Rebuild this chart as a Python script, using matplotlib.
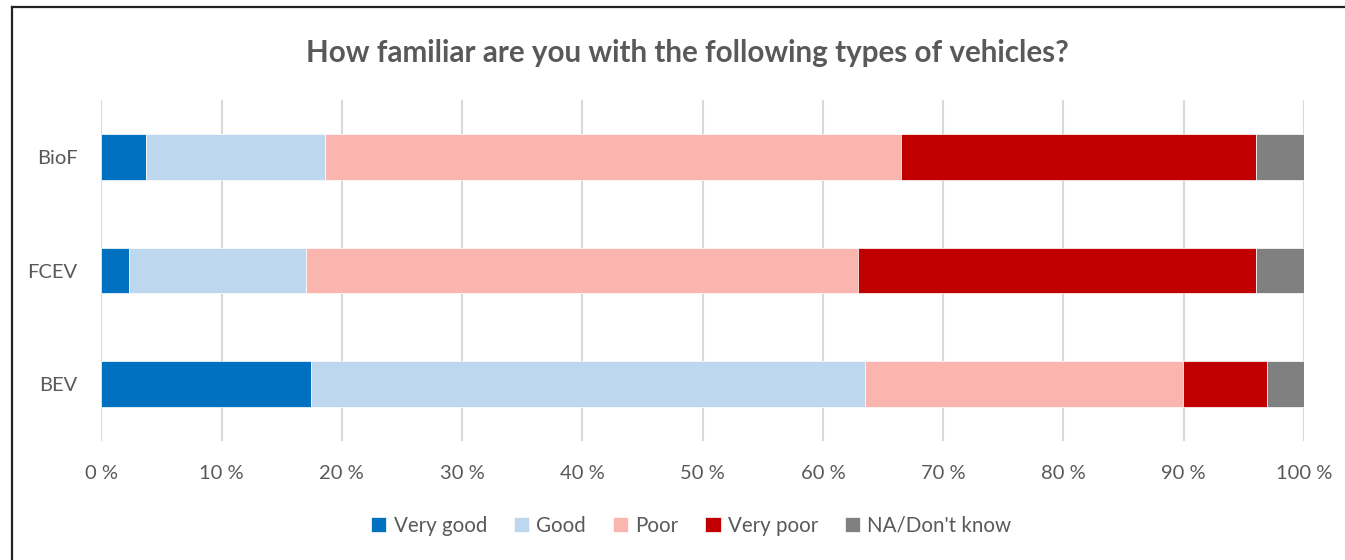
""" Stacked bar chart of vehicle type familiarity. """

import matplotlib.pyplot as plt
import numpy as np
from matplotlib.lines import Line2D

plt.rcParams['font.family'] = ['Lato', 'DejaVu Sans']

# data (percent of respondents)
vehicles = ['BEV', 'FCEV', 'BioF']
answers = ['Very good', 'Good', 'Poor', 'Very poor', "NA/Don't know"]
very_good = [17.4, 2.3, 3.7]
good = [46.1, 14.7, 14.9]
poor = [26.4, 45.9, 47.9]
very_poor = [7.0, 33.1, 29.5]
na_dont_know = [3.1, 4.0, 4.0]
xticks = [0, 10, 20, 30, 40, 50, 60, 70, 80, 90, 100]

colors = ['#0070C0', '#BDD7EE', '#FAB5AE', '#C00000', '#808080']
textcolor = '#595959'

fig = plt.figure(figsize=(13.45, 5.6), dpi=100)
ax = fig.add_axes([0.0753, 0.2125, 0.8942, 0.6089])

y = np.arange(len(vehicles))
left = np.zeros(len(vehicles))
series = [very_good, good, poor, very_poor, na_dont_know]
for vals, c, lab in zip(series, colors, answers):
    ax.barh(y, vals, 0.4, left=left, color=c, label=lab,
            edgecolor='white', linewidth=0.5, zorder=3)
    left += np.array(vals)

ax.set_xlim(0, 100)
ax.set_ylim(-0.5, 2.5)
ax.set_xticks(xticks)
ax.set_xticklabels(['%d %%' % t for t in xticks])
ax.set_yticks(y)
ax.set_yticklabels(vehicles)
ax.tick_params(length=0, labelsize=14.5, colors=textcolor)
ax.tick_params(axis='x', pad=17)
ax.tick_params(axis='y', pad=17)
ax.grid(axis='x', color='#D9D9D9', linewidth=1.5, zorder=0)
for s in ax.spines.values():
    s.set_visible(False)

fig.text(0.511, 0.905, 'How familiar are you with the following types of vehicles?',
         ha='center', va='center', fontsize=21.3, fontweight='bold',
         color=textcolor)

fig.legend(loc='center', bbox_to_anchor=(0.514, 0.061), ncol=5, frameon=False,
           fontsize=14.8, labelcolor=textcolor, handlelength=0.75,
           handleheight=0.75, handletextpad=0.35, columnspacing=1.3)

# chart border
fig.add_artist(Line2D([12/1345, 1], [1 - 7/560, 1 - 7/560], color='#222222',
                      linewidth=1.6, transform=fig.transFigure))
fig.add_artist(Line2D([12/1345, 12/1345], [0, 1 - 7/560], color='#222222',
                      linewidth=1.6, transform=fig.transFigure))

fig.savefig('out.png')
